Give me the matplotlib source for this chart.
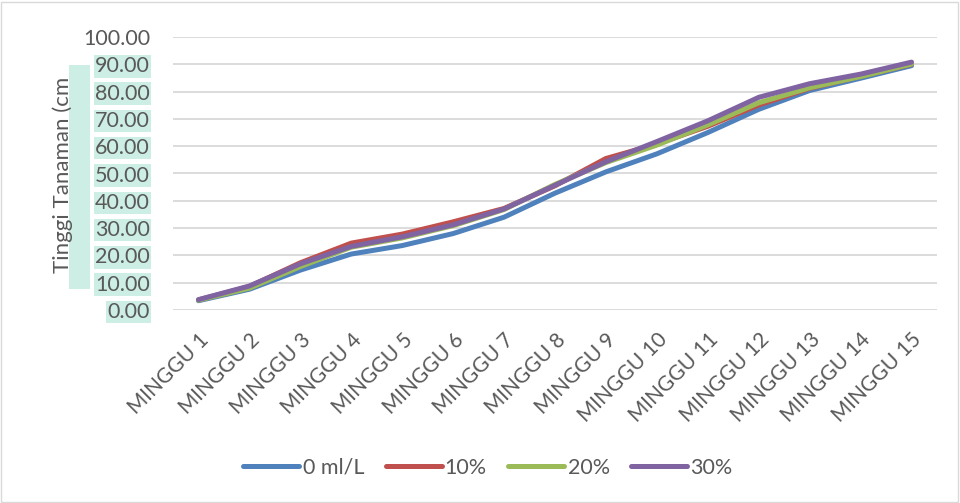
import matplotlib
matplotlib.use("Agg")
import matplotlib.pyplot as plt
from matplotlib.patches import Rectangle

categories = ["MINGGU 1", "MINGGU 2", "MINGGU 3", "MINGGU 4", "MINGGU 5", "MINGGU 6",
              "MINGGU 7", "MINGGU 8", "MINGGU 9", "MINGGU 10", "MINGGU 11", "MINGGU 12",
              "MINGGU 13", "MINGGU 14", "MINGGU 15"]
s0 = [3.4, 7.6, 14.6, 20.5, 23.6, 28.0, 34.0, 42.8, 50.6, 57.2, 65.0, 73.5, 80.4, 84.9, 89.5]
s10 = [3.7, 8.6, 17.3, 24.5, 27.8, 32.3, 37.2, 45.5, 55.5, 60.8, 67.3, 75.1, 81.2, 85.6, 90.0]
s20 = [3.6, 8.0, 15.9, 23.0, 26.4, 30.9, 36.8, 46.0, 54.0, 60.4, 67.8, 75.9, 81.4, 85.5, 90.1]
s30 = [3.8, 8.8, 16.9, 23.3, 26.8, 31.2, 37.0, 45.7, 54.3, 61.7, 69.3, 77.9, 82.9, 86.4, 90.8]
series_names = ["0 ml/L", "10%", "20%", "30%"]
yticks = [0, 10, 20, 30, 40, 50, 60, 70, 80, 90, 100]

plt.rcParams['font.family'] = ['Lato', 'DejaVu Sans']
grey = '#595959'
hl = '#cdeee4'

fig = plt.figure(figsize=(9.6, 5.03), dpi=100)
ax = fig.add_axes([173/960, 1 - 310/503, (937-173)/960, (310-37)/503])

colors = ['#4f81bd', '#c0504d', '#9bbb59', '#8064a2']
x = list(range(len(categories)))
for data, name, c in zip([s0, s10, s20, s30], series_names, colors):
    ax.plot(x, data, color=c, lw=3.6, solid_capstyle='round', solid_joinstyle='round', label=name)

ax.set_xlim(-0.5, len(categories) - 0.5)
ax.set_ylim(0, 100)
ax.set_yticks(yticks)
ax.set_yticklabels([f"{v:.2f}" for v in yticks])
ax.set_xticks(x)
ax.set_xticklabels(categories, rotation=45, ha='right', rotation_mode='anchor')
ax.tick_params(axis='both', length=0, colors=grey)
ax.tick_params(axis='y', pad=16.5, labelsize=15.5)
ax.tick_params(axis='x', pad=14, labelsize=15)
for lab in ax.get_yticklabels():
    if lab.get_text() != "100.00":
        lab.set_bbox(dict(facecolor=hl, edgecolor='none', pad=1.0))
for sp in ax.spines.values():
    sp.set_visible(False)
ax.grid(axis='y', color='#d9d9d9', lw=1.3)
ax.set_axisbelow(True)

# y-label highlight box and label
fig.patches.append(Rectangle((69/960, 1 - 289/503), 21/960, 224/503,
                             transform=fig.transFigure, facecolor=hl, edgecolor='none', zorder=0))
fig.text(63/960, 1 - 175/503, "Tinggi Tanaman (cm", rotation=90, ha='center', va='center',
         color=grey, fontsize=16)

fig.legend(loc='center', bbox_to_anchor=(488/960, 1 - 468/503), ncol=4, frameon=False,
           fontsize=15.5, handlelength=2.6, handletextpad=0.15, columnspacing=1.0,
           labelcolor=grey)

fig.patches.append(Rectangle((1/960, 1/503), 957/960, 500/503, transform=fig.transFigure,
                             facecolor='none', edgecolor='#d9d9d9', lw=1.0))

fig.savefig("out.png", dpi=100)
